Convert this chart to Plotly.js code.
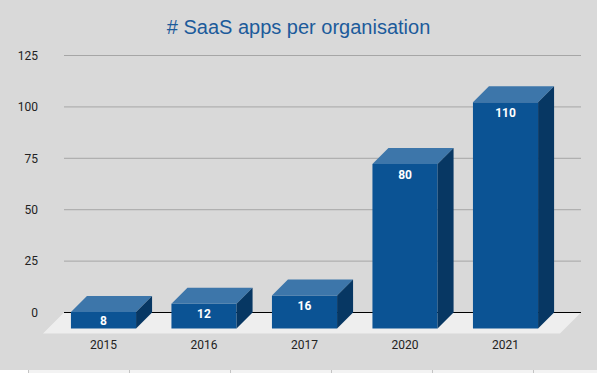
<!DOCTYPE html>
<html>
<head>
<meta charset="utf-8">
<script src="https://cdn.plot.ly/plotly-3.0.1.min.js"></script>
<style>html,body{margin:0;padding:0;background:#fff;overflow:hidden}#chart{width:597px;height:373px}</style>
</head>
<body>
<div id="chart"></div>
<script>
const categories = ['2015', '2016', '2017', '2020', '2021'];
const appCounts = [8, 12, 16, 80, 110];
const valueTicks = [0, 25, 50, 75, 100, 125];

const frontColor = '#0b5394', topColor = '#3d76aa', sideColor = '#073763';
const barWidth = 0.648;
const pxPerValue = 2.056, pxPerCategory = 100.5;
const depthPx = 16, floorFrontPx = 21, labelInsetPx = 9.5, labelNudgePx = 2;
const dx = depthPx / pxPerCategory, dy = depthPx / pxPerValue;
const fx = floorFrontPx / pxPerCategory, fy = floorFrontPx / pxPerValue;
const xMin = -0.602, xMax = 4.751, gridLeft = -0.393;
const positions = categories.map((_, i) => i);

const traces = [];
traces.push({
  type: 'bar', x: positions, y: appCounts, base: -dy, width: barWidth,
  marker: {color: frontColor, line: {width: 0}},
  hoverinfo: 'skip'
});
positions.forEach((p, i) => {
  const l = p - barWidth / 2, r = p + barWidth / 2, t = appCounts[i] - dy, b = -dy;
  traces.push({type: 'scatter', mode: 'lines', x: [l, r, r + dx, l + dx, l], y: [t, t, t + dy, t + dy, t],
    fill: 'toself', fillcolor: topColor, line: {width: 0}, hoverinfo: 'skip'});
  traces.push({type: 'scatter', mode: 'lines', x: [r, r + dx, r + dx, r, r], y: [t, t + dy, b + dy, b, t],
    fill: 'toself', fillcolor: sideColor, line: {width: 0}, hoverinfo: 'skip'});
});
traces.push({
  type: 'scatter', mode: 'text', x: positions,
  y: appCounts.map(v => v - dy - Math.min(v / 2, labelInsetPx / pxPerValue) - labelNudgePx / pxPerValue),
  text: appCounts.map(String), textposition: 'middle center',
  textfont: {family: 'Roboto', size: 12, color: '#ffffff', weight: 700},
  hoverinfo: 'skip', cliponaxis: false
});

const shapes = [{
  type: 'path', layer: 'below', xref: 'x', yref: 'y',
  path: `M ${gridLeft} 0 L ${xMax} 0 L ${xMax - fx} ${-fy} L ${gridLeft - fx} ${-fy} Z`,
  fillcolor: '#eeeeee', line: {width: 0}
}];
valueTicks.forEach(v => shapes.push({
  type: 'line', layer: 'below', xref: 'x', yref: 'y', x0: gridLeft, x1: xMax, y0: v, y1: v,
  line: {color: v === 0 ? '#000000' : '#a6a6a6', width: 1}
}));

// sliver of the spreadsheet grid showing under the chart
const H = 279, W = 538;
const py = px => (334 - px) / H, pxToX = px => (px - 43) / W;
shapes.push({type: 'rect', xref: 'paper', yref: 'paper', x0: pxToX(0), x1: pxToX(597), y0: py(370), y1: py(373),
  fillcolor: '#f3f3f3', line: {width: 0}, layer: 'below'});
shapes.push({type: 'rect', xref: 'paper', yref: 'paper', x0: pxToX(0), x1: pxToX(28), y0: py(370), y1: py(373),
  fillcolor: '#ffffff', line: {width: 0}, layer: 'below'});
[28.5, 129.5, 230.5, 331.5, 432.5, 533.5].forEach(px => shapes.push({
  type: 'line', xref: 'paper', yref: 'paper', x0: pxToX(px), x1: pxToX(px), y0: py(370), y1: py(373),
  line: {color: '#c4c4c4', width: 1}, layer: 'below'
}));

const layout = {
  width: 597, height: 373,
  margin: {l: 43, r: 16, t: 55, b: 39, pad: 0},
  paper_bgcolor: '#d9d9d9', plot_bgcolor: 'rgba(0,0,0,0)',
  showlegend: false,
  title: {text: '# SaaS apps per organisation', font: {family: 'Liberation Sans', size: 20, color: '#1c5b9b'},
    x: 0.5, xref: 'container', xanchor: 'center', y: 0.928, yanchor: 'middle'},
  xaxis: {range: [xMin, xMax], tickmode: 'array', tickvals: positions, ticktext: categories,
    showgrid: false, zeroline: false, showline: false, ticks: '', ticklabelstandoff: 2,
    tickfont: {family: 'Roboto', size: 12, color: '#222222'}},
  yaxis: {range: [-10.45, 125.25], tickmode: 'array', tickvals: valueTicks, ticktext: valueTicks.map(String),
    showgrid: false, zeroline: false, showline: false, ticks: '', ticklabelstandoff: 4,
    tickfont: {family: 'Roboto', size: 12, color: '#222222'}},
  shapes: shapes
};
Plotly.newPlot('chart', traces, layout, {displayModeBar: false, staticPlot: true});
</script>
</body>
</html>
